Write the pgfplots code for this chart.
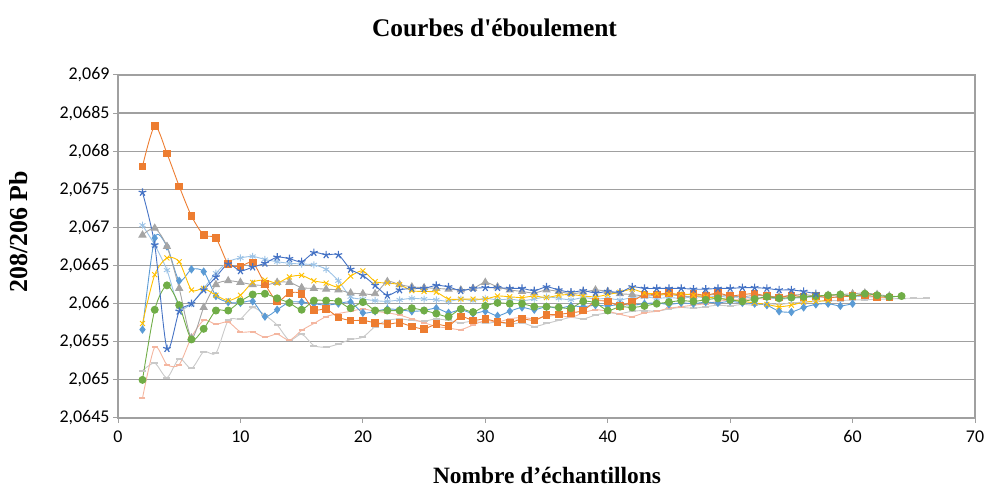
\documentclass[border=0pt]{standalone}
\usepackage{fontspec}
\setmainfont{Liberation Serif}
\newfontfamily\plainserif{Liberation Serif}
\setsansfont{Carlito}
\usepackage{pgfplots}
\pgfplotsset{compat=1.18}
\definecolor{cBD}{HTML}{5B9BD5}
\definecolor{cOR}{HTML}{ED7D31}
\definecolor{cGT}{HTML}{A5A5A5}
\definecolor{cYE}{HTML}{FFC000}
\definecolor{cDB}{HTML}{4472C4}
\definecolor{cGR}{HTML}{70AD47}
\definecolor{cLB}{HTML}{9DC3E6}
\definecolor{cPK}{HTML}{F4B6A0}
\definecolor{cLG}{HTML}{C9C9C9}
\definecolor{gridc}{HTML}{A0A0A0}
\begin{document}
\begin{tikzpicture}[x=1bp,y=1bp]
\useasboundingbox (0,0) rectangle (988,490);
\begin{axis}[
  at={(118bp,72bp)}, anchor=south west,
  width=857bp, height=343bp, scale only axis,
  xmin=0, xmax=70, ymin=2.0645, ymax=2.069,
  xtick={0,10,...,70},
  ytick={2.0645,2.065,2.0655,2.066,2.0665,2.067,2.0675,2.068,2.0685,2.069},
  ymajorgrids, grid style={gridc, line width=1.2bp},
  axis line style={gridc, line width=1.1bp},
  tick style={gridc, line width=1bp},
  tick align=outside, major tick length=5bp,
  xtick pos=bottom, ytick pos=left,
  scaled y ticks=false,
  /pgf/number format/assume math mode=true,
  yticklabel style={/pgf/number format/.cd, fixed, precision=4, use comma, 1000 sep={}},
  xticklabel style={yshift=-4bp},
  ticklabel style={font=\sffamily\fontsize{18}{18}\selectfont, text=black},
  every axis plot/.append style={smooth, tension=0.45, line width=0.9bp},
]
% light gray
\addplot[color=cLG, mark=-, mark size=3.5bp, mark options={line width=2bp}] coordinates {
(2,2.06512)(3,2.06522)(4,2.06503)(5,2.06528)(6,2.06515)(7,2.06537)(8,2.06535)(9,2.06578)(10,2.06580)(11,2.06595)(12,2.06585)(13,2.06572)(14,2.06552)(15,2.06560)(16,2.06545)(17,2.06543)(18,2.06547)(19,2.06553)(20,2.06556)(21,2.06570)(22,2.06578)(23,2.06580)(24,2.06578)(25,2.06577)(26,2.06580)(27,2.06578)(28,2.06575)(29,2.06577)(30,2.06574)(31,2.06576)(32,2.06573)(33,2.06575)(34,2.06570)(35,2.06574)(36,2.06578)(37,2.06582)(38,2.06580)(39,2.06585)(40,2.06588)(41,2.06587)(42,2.06590)(43,2.06591)(44,2.06590)(45,2.06593)(46,2.06595)(47,2.06594)(48,2.06596)(49,2.06598)(50,2.06597)(51,2.06599)(52,2.06598)(53,2.06600)(54,2.06599)(55,2.06601)(56,2.06602)(57,2.06603)(58,2.06604)(59,2.06604)(60,2.06605)(61,2.06605)(62,2.06606)(63,2.06606)(64,2.06607)(65,2.06607)(66,2.06607)};
% pink
\addplot[color=cPK, mark=-, mark size=3bp, mark options={line width=2bp}] coordinates {
(2,2.06476)(3,2.06543)(4,2.06520)(5,2.06520)(6,2.06556)(7,2.06578)(8,2.06573)(9,2.06576)(10,2.06563)(11,2.06563)(12,2.06556)(13,2.06560)(14,2.06552)(15,2.06565)(16,2.06574)(17,2.06583)(18,2.06587)(19,2.06590)(20,2.06593)(21,2.06590)(22,2.06588)(23,2.06585)(24,2.06580)(25,2.06575)(26,2.06570)(27,2.06568)(28,2.06566)(29,2.06572)(30,2.06578)(31,2.06576)(32,2.06580)(33,2.06582)(34,2.06580)(35,2.06583)(36,2.06585)(37,2.06582)(38,2.06588)(39,2.06592)(40,2.06590)(41,2.06586)(42,2.06583)(43,2.06588)(44,2.06590)(45,2.06594)(46,2.06596)(47,2.06598)(48,2.06600)(49,2.06603)(50,2.06605)(51,2.06605)(52,2.06607)(53,2.06606)(54,2.06608)(55,2.06609)(56,2.06608)(57,2.06610)(58,2.06611)(59,2.06610)(60,2.06611)};
% light blue asterisks
\addplot[color=cLB, mark=asterisk, mark size=3.5bp] coordinates {
(2,2.06703)(3,2.06677)(4,2.06644)(5,2.06595)(6,2.06600)(7,2.06620)(8,2.06640)(9,2.06655)(10,2.06660)(11,2.06662)(12,2.06658)(13,2.06655)(14,2.06653)(15,2.06652)(16,2.06651)(17,2.06645)(18,2.06630)(19,2.06609)(20,2.06606)(21,2.06604)(22,2.06603)(23,2.06605)(24,2.06607)(25,2.06606)(26,2.06605)(27,2.06603)(28,2.06606)(29,2.06604)(30,2.06607)(31,2.06605)(32,2.06606)(33,2.06604)(34,2.06606)(35,2.06609)(36,2.06607)(37,2.06605)(38,2.06608)(39,2.06606)(40,2.06607)(41,2.06605)(42,2.06608)(43,2.06609)(44,2.06607)(45,2.06608)(46,2.06607)(47,2.06609)(48,2.06608)(49,2.06610)(50,2.06608)(51,2.06609)(52,2.06607)(53,2.06608)(54,2.06606)(55,2.06607)(56,2.06608)(57,2.06609)(58,2.06608)(59,2.06609)(60,2.06610)(61,2.06609)(62,2.06609)};
% blue diamonds
\addplot[color=cBD, mark=diamond*, mark size=3.5bp] coordinates {
(2,2.06566)(3,2.06686)(4,2.06675)(5,2.06630)(6,2.06645)(7,2.06642)(8,2.06610)(9,2.06602)(10,2.06601)(11,2.06603)(12,2.06583)(13,2.06592)(14,2.06602)(15,2.06602)(16,2.06600)(17,2.06598)(18,2.06600)(19,2.06602)(20,2.06588)(21,2.06590)(22,2.06593)(23,2.06592)(24,2.06590)(25,2.06591)(26,2.06594)(27,2.06588)(28,2.06592)(29,2.06587)(30,2.06590)(31,2.06584)(32,2.06590)(33,2.06595)(34,2.06592)(35,2.06596)(36,2.06594)(37,2.06597)(38,2.06596)(39,2.06598)(40,2.06597)(41,2.06599)(42,2.06598)(43,2.06600)(44,2.06601)(45,2.06599)(46,2.06601)(47,2.06600)(48,2.06602)(49,2.06601)(50,2.06603)(51,2.06601)(52,2.06600)(53,2.06598)(54,2.06590)(55,2.06589)(56,2.06595)(57,2.06599)(58,2.06600)(59,2.06597)(60,2.06600)};
% gray triangles
\addplot[color=cGT, mark=triangle*, mark size=4bp] coordinates {
(2,2.06690)(3,2.06699)(4,2.06675)(5,2.06620)(6,2.06555)(7,2.06595)(8,2.06625)(9,2.06630)(10,2.06628)(11,2.06625)(12,2.06624)(13,2.06628)(14,2.06628)(15,2.06621)(16,2.06620)(17,2.06619)(18,2.06618)(19,2.06614)(20,2.06613)(21,2.06613)(22,2.06629)(23,2.06625)(24,2.06622)(25,2.06621)(26,2.06620)(27,2.06619)(28,2.06618)(29,2.06620)(30,2.06628)(31,2.06622)(32,2.06618)(33,2.06616)(34,2.06614)(35,2.06618)(36,2.06616)(37,2.06613)(38,2.06615)(39,2.06618)(40,2.06616)(41,2.06613)(42,2.06612)(43,2.06610)(44,2.06611)(45,2.06612)(46,2.06610)(47,2.06609)(48,2.06611)(49,2.06612)(50,2.06610)(51,2.06609)(52,2.06611)(53,2.06610)(54,2.06609)(55,2.06611)(56,2.06612)(57,2.06610)(58,2.06611)(59,2.06612)(60,2.06613)(61,2.06614)(62,2.06612)(63,2.06610)(64,2.06609)};
% orange squares
\addplot[color=cOR, mark=square*, mark size=3.3bp] coordinates {
(2,2.06780)(3,2.06833)(4,2.06797)(5,2.06754)(6,2.06715)(7,2.06690)(8,2.06686)(9,2.06652)(10,2.06649)(11,2.06654)(12,2.06626)(13,2.06603)(14,2.06614)(15,2.06613)(16,2.06592)(17,2.06593)(18,2.06582)(19,2.06578)(20,2.06578)(21,2.06575)(22,2.06573)(23,2.06575)(24,2.06570)(25,2.06567)(26,2.06573)(27,2.06571)(28,2.06583)(29,2.06578)(30,2.06580)(31,2.06576)(32,2.06575)(33,2.06580)(34,2.06578)(35,2.06585)(36,2.06586)(37,2.06588)(38,2.06591)(39,2.06603)(40,2.06603)(41,2.06597)(42,2.06603)(43,2.06612)(44,2.06612)(45,2.06614)(46,2.06611)(47,2.06613)(48,2.06611)(49,2.06614)(50,2.06610)(51,2.06612)(52,2.06613)(53,2.06610)(54,2.06608)(55,2.06611)(56,2.06609)(57,2.06610)(58,2.06608)(59,2.06609)(60,2.06610)(61,2.06611)(62,2.06609)(63,2.06608)};
% yellow x
\addplot[color=cYE, mark=x, mark size=3.5bp] coordinates {
(2,2.06574)(3,2.06638)(4,2.06660)(5,2.06655)(6,2.06618)(7,2.06620)(8,2.06611)(9,2.06604)(10,2.06611)(11,2.06628)(12,2.06631)(13,2.06627)(14,2.06635)(15,2.06637)(16,2.06630)(17,2.06627)(18,2.06622)(19,2.06636)(20,2.06643)(21,2.06629)(22,2.06627)(23,2.06625)(24,2.06617)(25,2.06616)(26,2.06615)(27,2.06606)(28,2.06606)(29,2.06606)(30,2.06606)(31,2.06610)(32,2.06609)(33,2.06608)(34,2.06610)(35,2.06608)(36,2.06611)(37,2.06612)(38,2.06610)(39,2.06609)(40,2.06612)(41,2.06615)(42,2.06619)(43,2.06614)(44,2.06613)(45,2.06612)(46,2.06613)(47,2.06611)(48,2.06609)(49,2.06607)(50,2.06605)(51,2.06603)(52,2.06601)(53,2.06599)(54,2.06596)(55,2.06598)(56,2.06602)(57,2.06603)(58,2.06604)};
% green circles
\addplot[color=cGR, mark=*, mark size=3.5bp] coordinates {
(2,2.06500)(3,2.06592)(4,2.06624)(5,2.06598)(6,2.06553)(7,2.06567)(8,2.06591)(9,2.06591)(10,2.06603)(11,2.06612)(12,2.06613)(13,2.06607)(14,2.06601)(15,2.06592)(16,2.06604)(17,2.06604)(18,2.06603)(19,2.06594)(20,2.06602)(21,2.06591)(22,2.06591)(23,2.06591)(24,2.06594)(25,2.06591)(26,2.06587)(27,2.06583)(28,2.06593)(29,2.06589)(30,2.06597)(31,2.06601)(32,2.06600)(33,2.06600)(34,2.06596)(35,2.06596)(36,2.06595)(37,2.06594)(38,2.06603)(39,2.06601)(40,2.06591)(41,2.06596)(42,2.06595)(43,2.06597)(44,2.06600)(45,2.06602)(46,2.06604)(47,2.06603)(48,2.06605)(49,2.06607)(50,2.06605)(51,2.06603)(52,2.06606)(53,2.06609)(54,2.06607)(55,2.06608)(56,2.06609)(57,2.06610)(58,2.06611)(59,2.06612)(60,2.06610)(61,2.06613)(62,2.06611)(63,2.06609)(64,2.06610)};
% dark blue stars
\addplot[color=cDB, mark=star, mark size=4bp, mark options={line width=1.2bp}] coordinates {
(2,2.06746)(3,2.06677)(4,2.06541)(5,2.06590)(6,2.06600)(7,2.06618)(8,2.06635)(9,2.06652)(10,2.06643)(11,2.06648)(12,2.06653)(13,2.06661)(14,2.06659)(15,2.06655)(16,2.06667)(17,2.06664)(18,2.06664)(19,2.06645)(20,2.06637)(21,2.06624)(22,2.06611)(23,2.06618)(24,2.06620)(25,2.06620)(26,2.06624)(27,2.06622)(28,2.06617)(29,2.06620)(30,2.06621)(31,2.06621)(32,2.06620)(33,2.06620)(34,2.06617)(35,2.06622)(36,2.06618)(37,2.06615)(38,2.06617)(39,2.06614)(40,2.06616)(41,2.06615)(42,2.06622)(43,2.06620)(44,2.06620)(45,2.06620)(46,2.06620)(47,2.06619)(48,2.06619)(49,2.06620)(50,2.06620)(51,2.06621)(52,2.06621)(53,2.06620)(54,2.06618)(55,2.06618)(56,2.06616)(57,2.06613)};
\end{axis}
\node[font=\plainserif\bfseries\fontsize{25.5}{25.5}\selectfont] at (494.5,462) {Courbes d'éboulement};
\node[font=\bfseries\fontsize{26}{26}\selectfont, rotate=90] at (19,258) {208/206 Pb};
\node[font=\bfseries\fontsize{23.5}{23.5}\selectfont] at (547,15) {Nombre d’échantillons};
\end{tikzpicture}
\end{document}
